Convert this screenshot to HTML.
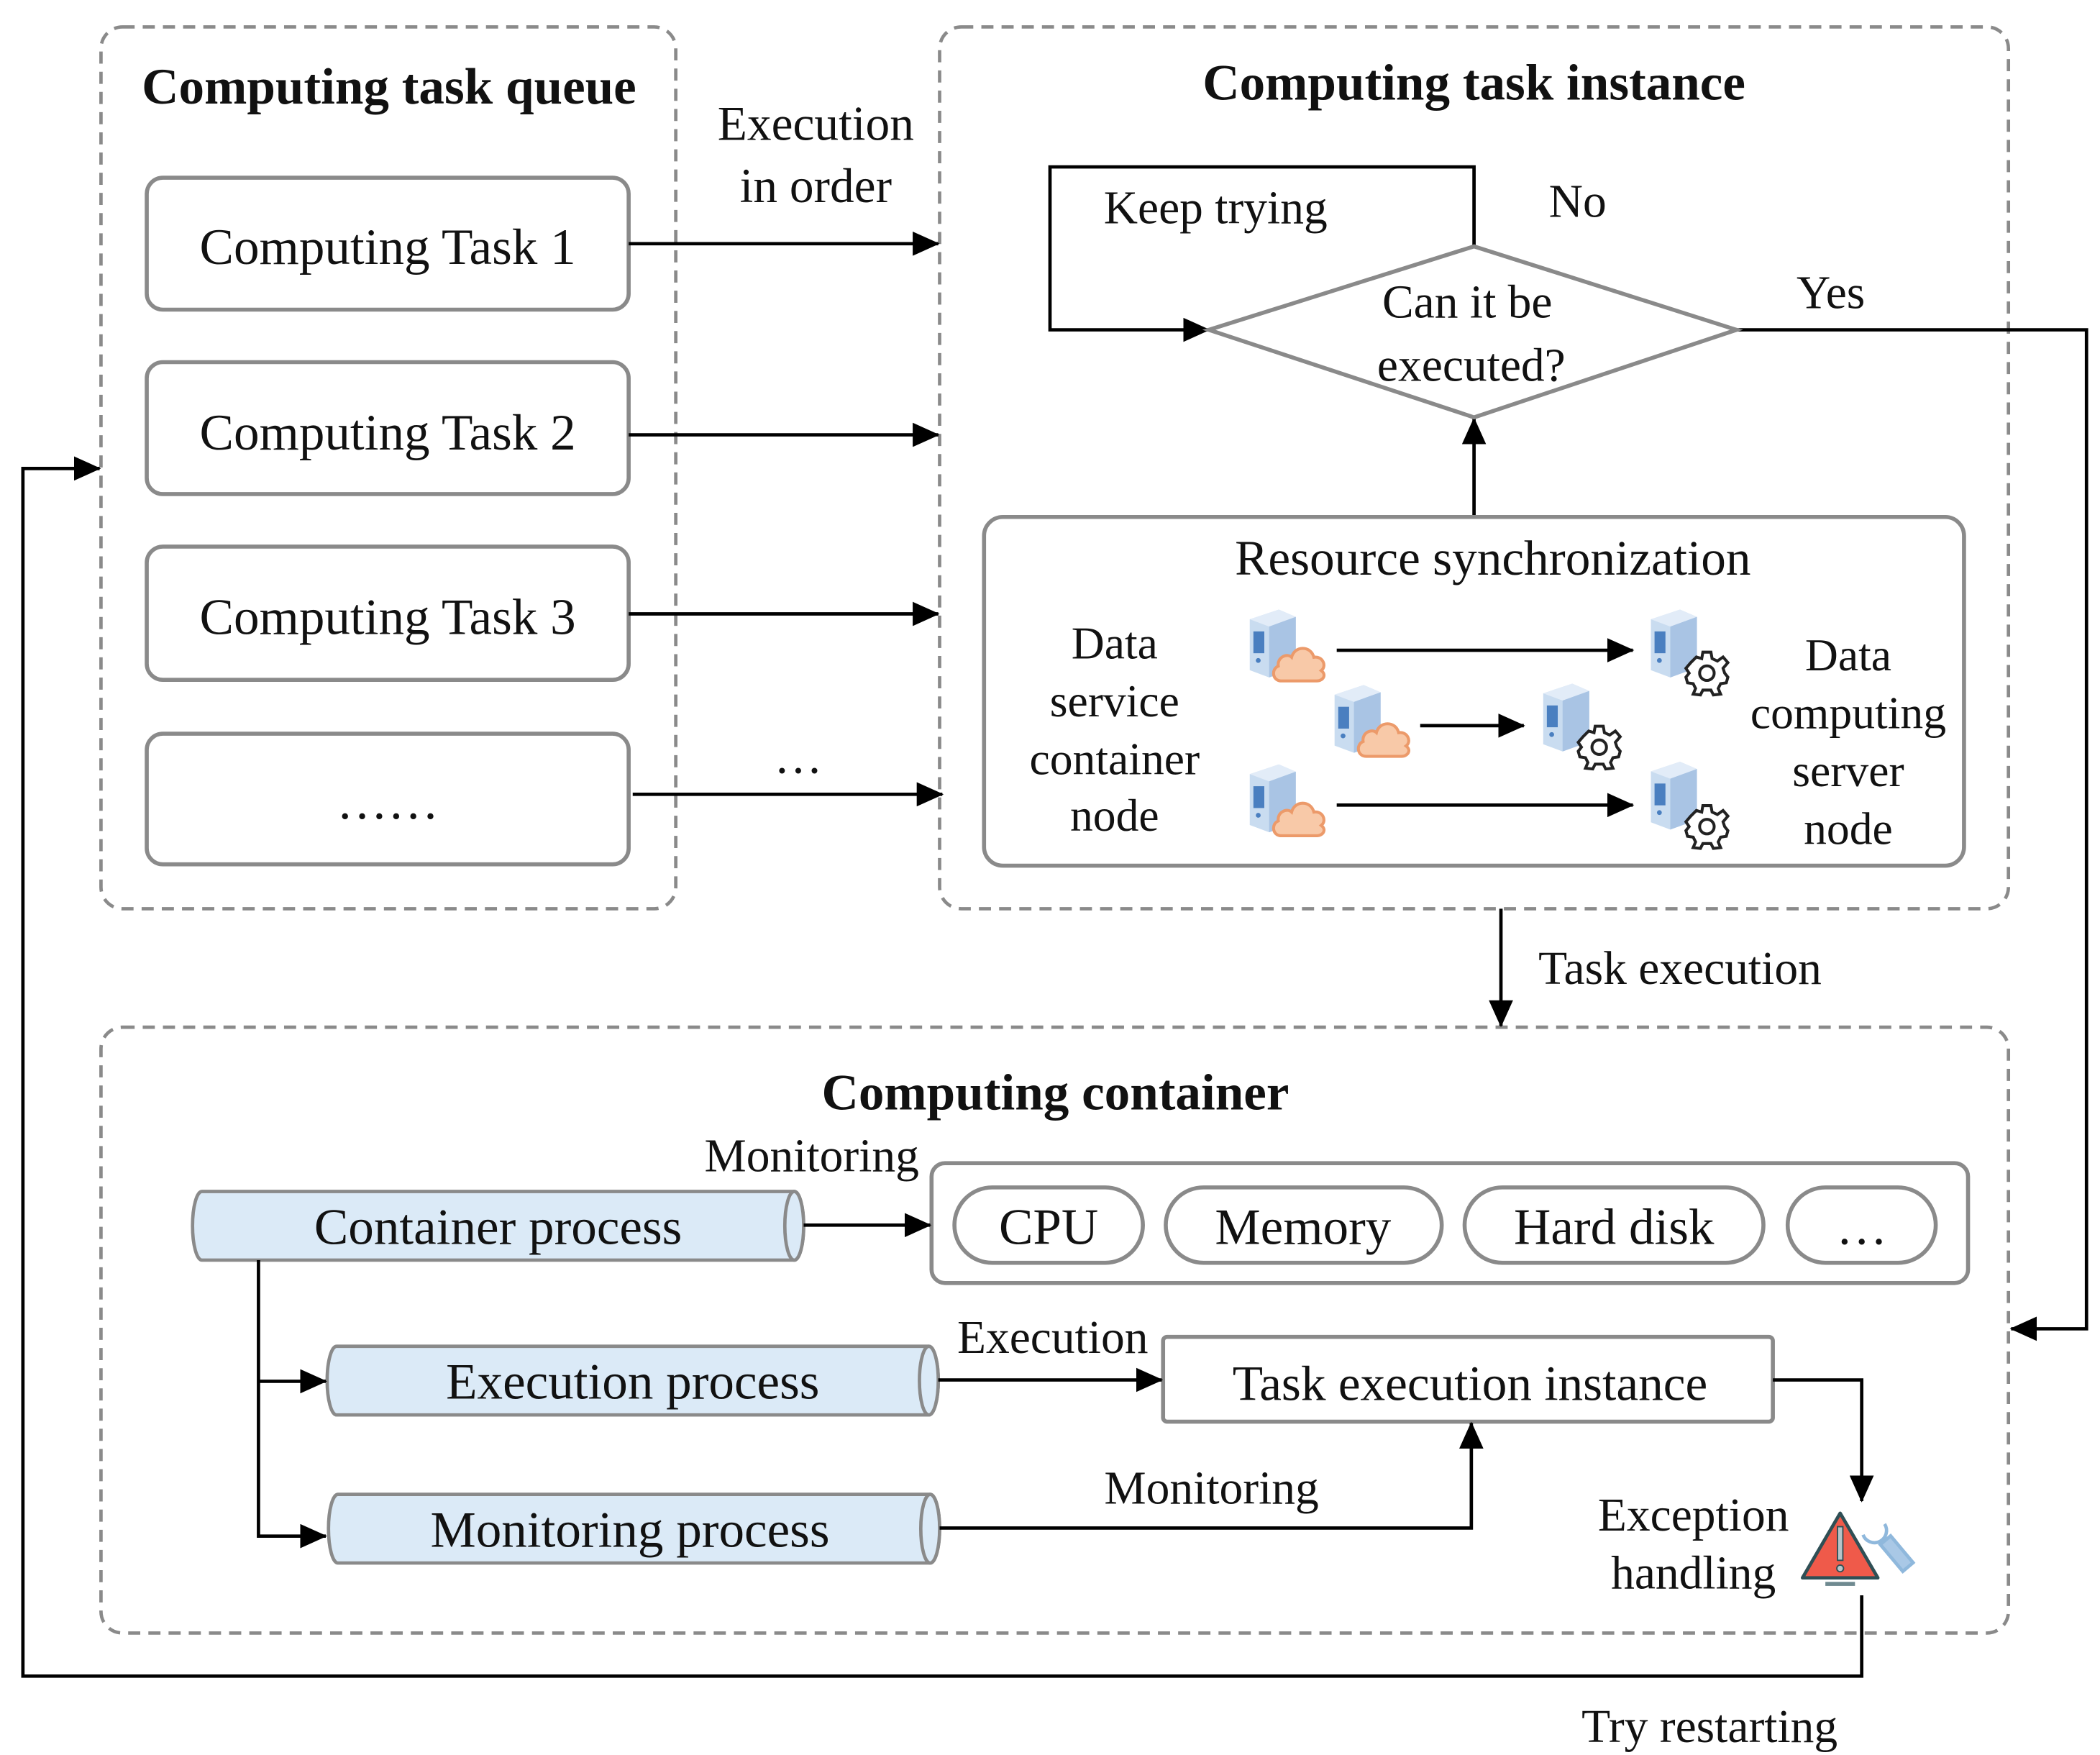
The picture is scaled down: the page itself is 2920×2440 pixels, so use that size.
<!DOCTYPE html>
<html><head><meta charset="utf-8"><style>html,body{margin:0;padding:0;background:#fff}svg{display:block}</style></head>
<body>
<svg width="2920" height="2440" viewBox="0 0 1560 1303.6" xmlns="http://www.w3.org/2000/svg" font-family="'Liberation Serif', serif" fill="#111">
<defs>
<marker id="ahb" markerWidth="20" markerHeight="18" refX="19" refY="9" orient="auto" markerUnits="userSpaceOnUse" viewBox="0 0 20 18">
<path d="M0,0 L20,9 L0,18 z" fill="#000"/></marker>
<symbol id="srv" viewBox="0 0 50 60">
<path d="M6,10 L30,2 L44,8 L44,50 L22,58 L6,52 z" fill="#c9dcf0"/>
<path d="M6,10 L30,2 L44,8 L22,16 z" fill="#e2ecf8"/>
<path d="M22,16 L44,8 L44,50 L22,58 z" fill="#a9c4e4"/>
<rect x="9" y="20" width="9" height="18" fill="#4a7fc0"/>
<circle cx="13" cy="44" r="2" fill="#4a7fc0"/>
</symbol>
<symbol id="cloud" viewBox="0 0 40 30">
<path d="M8,28 C2,28 1,20 6,18 C5,12 12,9 15,12 C17,4 28,4 30,12 C36,11 39,18 35,21 C39,24 36,28 32,28 z" fill="#f8c9a8" stroke="#ec9a6a" stroke-width="2"/>
</symbol>
<symbol id="gear" viewBox="0 0 30 30">
<g transform="translate(15,15)" fill="#fff" stroke="#222" stroke-width="1.8">
<path d="M-2.5,-13 L2.5,-13 L3.2,-9 L6.5,-7.5 L10,-10 L13,-6.5 L10,-3 L11,0 L13,2.5 L13,2.5 L12,6 L8.5,6.5 L7,9.5 L8.5,13 L4,13.5 L2.5,10.5 L-2.5,10.5 L-4,13.5 L-8.5,13 L-7,9.5 L-8.5,6.5 L-12,6 L-13,2.5 L-11,0 L-13,-3 L-10,-6.5 L-6.5,-10 L-3.2,-9 z"/>
<circle r="4.5"/></g>
</symbol>
</defs>

<g fill="none" stroke="#8a8a8a" stroke-width="2.5" stroke-dasharray="9,6">
<rect x="75" y="20" width="427" height="655" rx="16"/>
<rect x="698" y="20" width="794" height="655" rx="16"/>
<rect x="75" y="763" width="1417" height="450" rx="16"/>
</g>

<text x="289" y="77" font-size="38" font-weight="bold" text-anchor="middle">Computing task queue</text>
<text x="1095" y="74" font-size="38" font-weight="bold" text-anchor="middle">Computing task instance</text>
<text x="784" y="824" font-size="38" font-weight="bold" text-anchor="middle">Computing container</text>

<g fill="#fff" stroke="#8a8a8a" stroke-width="3">
<rect x="109" y="132" width="358" height="98" rx="12"/>
<rect x="109" y="269" width="358" height="98" rx="12"/>
<rect x="109" y="406" width="358" height="99" rx="12"/>
<rect x="109" y="545" width="358" height="97" rx="12"/>
</g>
<g font-size="38" text-anchor="middle">
<text x="288" y="196">Computing Task 1</text>
<text x="288" y="334">Computing Task 2</text>
<text x="288" y="471">Computing Task 3</text>
<text x="288" y="608">……</text>
</g>

<g stroke="#000" stroke-width="2.5" fill="none">
<line x1="467" y1="181" x2="697" y2="181" marker-end="url(#ahb)"/>
<line x1="467" y1="323" x2="697" y2="323" marker-end="url(#ahb)"/>
<line x1="467" y1="456" x2="697" y2="456" marker-end="url(#ahb)"/>
<line x1="470" y1="590" x2="700" y2="590" marker-end="url(#ahb)"/>
</g>
<g font-size="36" text-anchor="middle">
<text x="606" y="104">Execution</text>
<text x="606" y="150">in order</text>
<text x="593" y="574">…</text>
</g>

<g stroke="#000" stroke-width="2.5" fill="none">
<polyline points="1095,183 1095,124 780,124 780,245 898,245" marker-end="url(#ahb)"/>
<polyline points="1290,245 1550,245 1550,987 1494,987" marker-end="url(#ahb)"/>
<line x1="1095" y1="384" x2="1095" y2="311" marker-end="url(#ahb)"/>
<line x1="1115" y1="675" x2="1115" y2="762" marker-end="url(#ahb)"/>
</g>
<polygon points="898,245 1095,183 1290,245 1095,310" fill="#fff" stroke="#8a8a8a" stroke-width="3"/>
<g font-size="35" text-anchor="middle">
<text x="903" y="166">Keep trying</text>
<text x="1172" y="161">No</text>
<text x="1090" y="236">Can it be</text>
<text x="1093" y="283">executed?</text>
<text x="1360" y="229">Yes</text>
<text x="1248" y="731">Task execution</text>
</g>

<rect x="731" y="384" width="728" height="259" rx="14" fill="#fff" stroke="#8a8a8a" stroke-width="3"/>
<text x="1109" y="427" font-size="37" text-anchor="middle">Resource synchronization</text>
<g font-size="34" text-anchor="middle">
<text x="828" y="489">Data</text>
<text x="828" y="532">service</text>
<text x="828" y="575">container</text>
<text x="828" y="617">node</text>
<text x="1373" y="498">Data</text>
<text x="1373" y="541">computing</text>
<text x="1373" y="584">server</text>
<text x="1373" y="627">node</text>
</g>
<use href="#srv" x="923" y="447" width="45" height="62"/>
<use href="#cloud" x="943" y="475" width="44" height="33"/>
<use href="#srv" x="986" y="503" width="45" height="62"/>
<use href="#cloud" x="1006" y="531" width="44" height="33"/>
<use href="#srv" x="923" y="562" width="45" height="62"/>
<use href="#cloud" x="943" y="590" width="44" height="33"/>
<use href="#srv" x="1221" y="447" width="45" height="62"/>
<use href="#gear" x="1250" y="482" width="36" height="36"/>
<use href="#srv" x="1141" y="502" width="45" height="62"/>
<use href="#gear" x="1170" y="537" width="36" height="36"/>
<use href="#srv" x="1221" y="560" width="45" height="62"/>
<use href="#gear" x="1250" y="596" width="36" height="36"/>
<g stroke="#000" stroke-width="2.5">
<line x1="993" y1="483" x2="1213" y2="483" marker-end="url(#ahb)"/>
<line x1="1055" y1="539" x2="1132" y2="539" marker-end="url(#ahb)"/>
<line x1="993" y1="598" x2="1213" y2="598" marker-end="url(#ahb)"/>
</g>

<g fill="#dbeaf7" stroke="#8a8a8a" stroke-width="2.5">
<path d="M150,885 L590,885 A7,25.5 0 0 1 590,936 L150,936 A7,25.5 0 0 1 150,885 z"/>
<ellipse cx="590" cy="910.5" rx="7" ry="25.5"/>
<path d="M250,1000 L690,1000 A7,25.5 0 0 1 690,1051 L250,1051 A7,25.5 0 0 1 250,1000 z"/>
<ellipse cx="690" cy="1025.5" rx="7" ry="25.5"/>
<path d="M251,1110 L691,1110 A7,25.5 0 0 1 691,1161 L251,1161 A7,25.5 0 0 1 251,1110 z"/>
<ellipse cx="691" cy="1135.5" rx="7" ry="25.5"/>
</g>
<g font-size="38" text-anchor="middle">
<text x="370" y="924">Container process</text>
<text x="470" y="1039">Execution process</text>
<text x="468" y="1149">Monitoring process</text>
</g>
<rect x="692" y="864" width="770" height="89" rx="10" fill="#fff" stroke="#8a8a8a" stroke-width="3"/>
<g fill="#fff" stroke="#8a8a8a" stroke-width="3">
<rect x="709" y="882" width="140" height="56" rx="28"/>
<rect x="866" y="882" width="205" height="56" rx="28"/>
<rect x="1088" y="882" width="222" height="56" rx="28"/>
<rect x="1328" y="882" width="110" height="56" rx="28"/>
</g>
<g font-size="38" text-anchor="middle">
<text x="779" y="924">CPU</text>
<text x="968" y="924">Memory</text>
<text x="1199" y="924">Hard disk</text>
<text x="1383" y="924">…</text>
</g>
<rect x="864" y="993" width="453" height="63" fill="#fff" stroke="#8a8a8a" stroke-width="3" rx="3"/>
<text x="1092" y="1040" font-size="37" text-anchor="middle">Task execution instance</text>
<g font-size="35" text-anchor="middle">
<text x="603" y="870">Monitoring</text>
<text x="782" y="1005">Execution</text>
<text x="900" y="1117">Monitoring</text>
<text x="1258" y="1137">Exception</text>
<text x="1258" y="1180">handling</text>
<text x="1270" y="1294">Try restarting</text>
</g>
<g stroke="#000" stroke-width="2.5" fill="none">
<line x1="597" y1="910" x2="691" y2="910" marker-end="url(#ahb)"/>
<polyline points="192,936 192,1141 242,1141" marker-end="url(#ahb)"/>
<line x1="192" y1="1026" x2="242" y2="1026" marker-end="url(#ahb)"/>
<line x1="697" y1="1025" x2="863" y2="1025" marker-end="url(#ahb)"/>
<polyline points="1317,1025 1383,1025 1383,1115" marker-end="url(#ahb)"/>
<polyline points="698,1135 1093,1135 1093,1057" marker-end="url(#ahb)"/>
<polyline points="1383,1185 1383,1245 17,1245 17,348 74,348" marker-end="url(#ahb)"/>
</g>
<polygon points="1367,1124 1395,1172 1339,1172" fill="#ef5a4a" stroke="#2f4f55" stroke-width="2.5" stroke-linejoin="round"/>
<rect x="1356" y="1175" width="22" height="3" fill="#6f8a90"/>
<rect x="1365" y="1134" width="4" height="25" fill="#b8c4c8" stroke="#2f4f55" stroke-width="1"/>
<circle cx="1367" cy="1165" r="2.5" fill="#b8c4c8" stroke="#2f4f55" stroke-width="1"/>
<g stroke="#8fb8dc" stroke-width="2.5" fill="#d6e6f5">
<path d="M1384,1140 A9,9 0 1 0 1400,1132" fill="none"/>
<rect x="1404" y="1141" width="10" height="26" transform="rotate(-40 1409 1154)" fill="#a9c8e6"/>
</g>
</svg>
</body></html>
